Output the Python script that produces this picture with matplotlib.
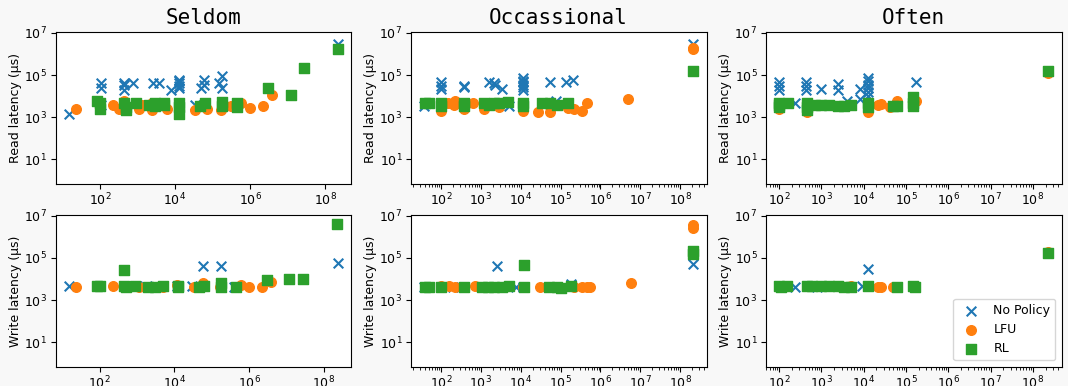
import matplotlib
matplotlib.use("Agg")
import matplotlib.pyplot as plt

# ---- data: (file size, latency in us) per scenario / policy ----
titles = ["Seldom", "Occassional", "Often"]
policies = ["No Policy", "LFU", "RL"]

# Seldom, read
seldom_read_np_x = [15, 107, 107, 107, 450, 450, 450, 450, 780, 2600, 3800, 7700, 12600, 12600, 12600, 12600,
                    12600, 12600, 5e4, 6e4, 6e4, 1.45e5, 1.8e5, 1.8e5, 3.4e4, 4e5, 2.2e8]
seldom_read_np_y = [1400, 4e4, 2.5e4, 4e3, 4e4, 3.5e4, 2e4, 4e3, 4e4, 4e4, 4e4, 2e4, 6e4, 5e4, 4e4, 3e4,
                    2.5e4, 3.5e3, 2.5e4, 6e4, 3.5e4, 4e4, 9e4, 2.5e4, 4e3, 3.5e3, 3e6]
seldom_read_lfu_x = [23, 230, 320, 450, 1070, 1300, 2500, 2500, 6300, 12600, 3.4e4, 7e4, 1.7e5, 3.2e5, 5.9e5,
                     1e6, 2.2e6, 3.9e6, 2.2e8]
seldom_read_lfu_y = [2400, 3700, 2400, 6000, 2400, 3800, 5000, 2200, 2500, 2000, 2200, 2600, 2300, 3600, 5000,
                     2800, 3400, 1.2e4, 1.8e6]
seldom_read_rl_x = [83, 100, 100, 450, 500, 500, 900, 2000, 3000, 3000, 5000, 5000, 12600, 12600, 12600, 4.6e4,
                    6.3e4, 1.8e5, 1.8e5, 4.5e5, 4.5e5, 3e6, 1.2e7, 2.8e7, 2.2e8]
seldom_read_rl_y = [6000, 4500, 2500, 5000, 3000, 2200, 5000, 4000, 4500, 3500, 5000, 4000, 5000, 3000, 1500, 3500,
                    4500, 5500, 3500, 4500, 3200, 2.4e4, 1.2e4, 2.2e5, 1.7e6]

# Occassional, read
occ_read_np_x = [38, 100, 100, 100, 390, 390, 1600, 2100, 2300, 3500, 5000, 1.15e4, 1.15e4, 1.15e4, 1.15e4,
                 1.15e4, 1.15e4, 5.3e4, 7.8e4, 1.4e5, 2.1e5, 2.1e8]
occ_read_np_y = [3300, 4.7e4, 3.2e4, 2.1e4, 3.2e4, 2.6e4, 4.5e4, 4.2e4, 3.5e4, 2.3e4, 3500, 7e4, 5.5e4, 4.5e4,
                 3.5e4, 2.8e4, 2e4, 4.5e4, 6e3, 4.5e4, 6e4, 3e6]
occ_read_lfu_x = [100, 150, 210, 230, 390, 630, 1200, 1200, 2800, 1.15e4, 1.15e4, 2.8e4, 5.3e4, 5.3e4, 1.5e5,
                  2.2e5, 3.5e5, 4.5e5, 5e6, 2.1e8, 2.1e8]
occ_read_lfu_y = [2000, 5000, 4000, 6000, 2600, 5000, 3500, 2500, 3000, 1900, 3000, 1700, 1800, 3500, 2800,
                  2600, 1900, 4500, 7300, 2e6, 1.7e6]
occ_read_rl_x = [40, 50, 100, 100, 390, 390, 1200, 1600, 2100, 2800, 4700, 1.15e4, 1.15e4, 3.5e4, 5.3e4, 8e4,
                 1.5e5, 2.1e8]
occ_read_rl_y = [5000, 5000, 5000, 3500, 5000, 3500, 4500, 4000, 4500, 5000, 5500, 5000, 3500, 5000, 4500, 3800,
                 4500, 1.5e5]

# Often, read
often_read_np_x = [100, 100, 100, 240, 430, 430, 430, 1000, 2500, 2500, 4000, 8000, 8000, 1.25e4, 1.25e4,
                   1.25e4, 1.25e4, 1.25e4, 1.25e4, 1.75e5, 2.3e8]
often_read_np_y = [4.5e4, 3e4, 2e4, 5000, 4.5e4, 3e4, 2e4, 2.2e4, 3.8e4, 2e4, 6000, 2.2e4, 7000, 7e4, 5e4,
                   3.5e4, 2.5e4, 1.5e4, 1e4, 4.5e4, 1.5e5]
often_read_lfu_x = [100, 100, 450, 450, 1000, 2500, 5000, 1.25e4, 1.25e4, 2.2e4, 2.6e4, 4.2e4, 6e4, 1.5e5,
                    1.75e5, 2.3e8]
often_read_lfu_y = [4000, 2500, 4000, 1800, 4000, 3500, 3800, 4000, 1800, 4000, 4200, 3000, 6000, 3500, 6000,
                    1.3e5]
often_read_rl_x = [100, 100, 100, 160, 450, 450, 450, 700, 1000, 1500, 2500, 3500, 5000, 1.25e4, 1.25e4, 5e4,
                   6e4, 1.5e5, 1.5e5, 1.5e5, 2.3e8]
often_read_rl_y = [5000, 4000, 3000, 4500, 5000, 3000, 2200, 4000, 4000, 4000, 3500, 3500, 4000, 4500, 3000,
                   3300, 3500, 9000, 5000, 3500, 1.5e5]

# Seldom, write
seldom_write_np_x = [15, 100, 450, 1000, 3000, 1.2e4, 3e4, 6e4, 6e4, 1.8e5, 1.8e5, 4e5, 2.4e8]
seldom_write_np_y = [4600, 4500, 4500, 4500, 4500, 4500, 4500, 4500, 4.2e4, 4.2e4, 4500, 4000, 5.7e4]
seldom_write_lfu_x = [23, 230, 450, 1100, 2500, 5000, 1.2e4, 3.4e4, 6e4, 1.7e5, 5.9e5, 1e6, 2.2e6, 3.9e6, 2.2e8]
seldom_write_lfu_y = [4000, 4500, 4200, 4300, 4000, 4300, 5000, 4000, 6500, 4000, 5000, 4000, 4200, 7000, 4e6]
seldom_write_rl_x = [83, 100, 450, 450, 500, 900, 2000, 3000, 5000, 1.26e4, 1.26e4, 4.6e4, 6.3e4, 1.8e5, 1.8e5,
                     4.5e5, 3e6, 1.2e7, 2.8e7, 2.2e8]
seldom_write_rl_y = [4500, 4500, 2.7e4, 4500, 4000, 4500, 4000, 4300, 4500, 4500, 4000, 4200, 4600, 6500, 4300,
                     4200, 9000, 1e4, 1e4, 4e6]

# Occassional, write
occ_write_np_x = [38, 200, 390, 2600, 7500, 1.15e4, 6e4, 1.8e5, 2.1e8]
occ_write_np_y = [4300, 4300, 4300, 4.2e4, 4300, 4300, 4300, 6000, 5e4]
occ_write_lfu_x = [100, 160, 230, 700, 1200, 2500, 1.15e4, 3e4, 7e4, 2.2e5, 3.5e5, 4.5e5, 5.5e5, 6e6, 2.1e8, 2.1e8]
occ_write_lfu_y = [4500, 4500, 4300, 4800, 4300, 4200, 4000, 4300, 4200, 4300, 4300, 4200, 4000, 6300, 3.7e6, 2.5e6]
occ_write_rl_x = [40, 50, 100, 390, 1100, 1500, 2200, 3500, 5000, 1.2e4, 1.2e4, 5e4, 8e4, 1e5, 1.8e5, 2.1e8, 2.1e8]
occ_write_rl_y = [4200, 4300, 4300, 4300, 4300, 4400, 4300, 4300, 4500, 4.7e4, 4300, 4200, 4200, 3900, 4500,
                  2.1e5, 1.6e5]

# Often, write
often_write_np_x = [100, 240, 800, 9000, 1.25e4]
often_write_np_y = [4500, 4200, 4200, 4500, 3e4]
often_write_lfu_x = [100, 450, 1000, 2500, 5000, 1.25e4, 2.2e4, 2.6e4, 5e4, 6e4, 1.5e5, 2.3e8]
often_write_lfu_y = [4500, 4500, 4500, 4500, 4500, 4500, 4300, 4300, 4300, 4300, 4300, 1.9e5]
often_write_rl_x = [100, 110, 150, 450, 600, 1000, 1500, 2500, 3500, 5000, 1.25e4, 6e4, 1.5e5, 1.6e5, 2.3e8]
often_write_rl_y = [4800, 4200, 4500, 4500, 4500, 4500, 4500, 4500, 4400, 4400, 4800, 4200, 4500, 4200, 1.7e5]

read_series = [
    [(seldom_read_np_x, seldom_read_np_y), (seldom_read_lfu_x, seldom_read_lfu_y), (seldom_read_rl_x, seldom_read_rl_y)],
    [(occ_read_np_x, occ_read_np_y), (occ_read_lfu_x, occ_read_lfu_y), (occ_read_rl_x, occ_read_rl_y)],
    [(often_read_np_x, often_read_np_y), (often_read_lfu_x, often_read_lfu_y), (often_read_rl_x, often_read_rl_y)],
]
write_series = [
    [(seldom_write_np_x, seldom_write_np_y), (seldom_write_lfu_x, seldom_write_lfu_y), (seldom_write_rl_x, seldom_write_rl_y)],
    [(occ_write_np_x, occ_write_np_y), (occ_write_lfu_x, occ_write_lfu_y), (occ_write_rl_x, occ_write_rl_y)],
    [(often_write_np_x, often_write_np_y), (often_write_lfu_x, often_write_lfu_y), (often_write_rl_x, often_write_rl_y)],
]

markers = ["x", "o", "s"]
colors = ["#1f77b4", "#ff7f0e", "#2ca02c"]

fig, axes = plt.subplots(2, 3, figsize=(10.68, 3.86), dpi=100, facecolor="#f8f8f8")
fig.subplots_adjust(left=0.052, right=0.994, top=0.917, bottom=0.05, wspace=0.2, hspace=0.205)

for col in range(3):
    for row, (series, ylab) in enumerate([(read_series, "Read latency (µs)"), (write_series, "Write latency (µs)")]):
        ax = axes[row, col]
        for (xs, ys), m, c, lab in zip(series[col], markers, colors, policies):
            ax.scatter(xs, ys, marker=m, color=c, s=48, label=lab)
        ax.set_xscale("log")
        ax.set_yscale("log")
        ax.set_ylim(0.7, 1.1e7)
        ax.set_ylabel(ylab, fontsize=9, labelpad=2)
        ax.tick_params(labelsize=9, pad=2.5)
    axes[0, col].set_title(titles[col], fontsize=15, family="DejaVu Sans Mono", pad=6)

axes[1, 2].legend(loc="lower right", fontsize=9)

fig.savefig("out.png", dpi=100, facecolor=fig.get_facecolor())
